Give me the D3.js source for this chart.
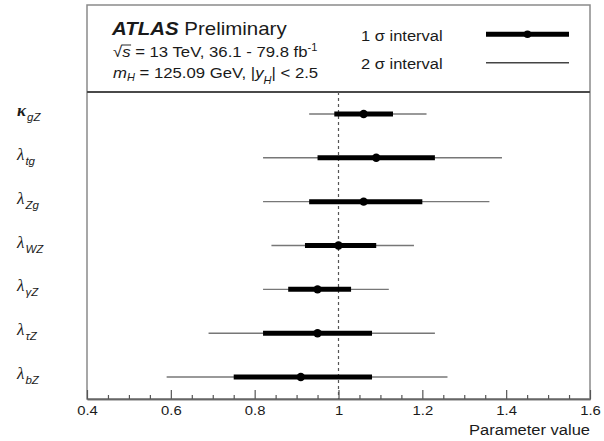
<!DOCTYPE html>
<html>
<head>
<meta charset="utf-8">
<script src="https://cdn.jsdelivr.net/npm/d3@7"></script>
<style>
  body { margin: 0; background: #fff; }
  text { font-family: "Liberation Sans", Arial, sans-serif; fill: #1a1a1a; }
</style>
</head>
<body>
<script>
// parameters, top to bottom
var params = ["kgZ", "ltg", "lZg", "lWZ", "lgZ", "ltZ", "lbZ"];
var symbols = ["κ", "λ", "λ", "λ", "λ", "λ", "λ"];
var subs = ["gZ", "tg", "Zg", "WZ", "γZ", "τZ", "bZ"];
var central = [1.06, 1.09, 1.06, 1.00, 0.95, 0.95, 0.91];
var lo1 = [0.99, 0.95, 0.93, 0.92, 0.88, 0.82, 0.75];
var hi1 = [1.13, 1.23, 1.20, 1.09, 1.03, 1.08, 1.08];
var lo2 = [0.93, 0.82, 0.82, 0.84, 0.82, 0.69, 0.59];
var hi2 = [1.21, 1.39, 1.36, 1.18, 1.12, 1.23, 1.26];
var majorTicks = [0.4, 0.6, 0.8, 1.0, 1.2, 1.4, 1.6];

var W = 604, H = 441;
var frameL = 87, frameR = 590, frameT = 5, sep = 92, frameB = 399;
var stretch = "scale(1.1,1)";

var svg = d3.select("body").append("svg")
    .attr("width", W)
    .attr("height", H);

var x = d3.scaleLinear().domain([0.4, 1.6]).range([frameL, frameR]);
var y = d3.scaleBand().domain(params).range([sep, frameB]);

var rows = params.map(function(p, i) {
  return {key: p, sym: symbols[i], sub: subs[i], c: central[i],
          l1: lo1[i], h1: hi1[i], l2: lo2[i], h2: hi2[i]};
});

// frame + header separator
svg.append("rect")
    .attr("x", frameL).attr("y", frameT)
    .attr("width", frameR - frameL).attr("height", frameB - frameT)
    .attr("fill", "none").attr("stroke", "#8a8a8a").attr("stroke-width", 1.5);
svg.append("line")
    .attr("x1", frameL).attr("x2", frameR).attr("y1", sep).attr("y2", sep)
    .attr("stroke", "#4a4a4a").attr("stroke-width", 2);

// axis ticks (pointing inward)
var minor = d3.range(0.45, 1.6, 0.05).filter(function(v) {
  return Math.abs(v * 5 - Math.round(v * 5)) > 0.01;
});
var gx = svg.append("g").attr("transform", "translate(0," + frameB + ")");
gx.call(d3.axisBottom(x).tickValues(majorTicks).tickSizeInner(-9).tickSizeOuter(0)
    .tickPadding(6).tickFormat(function(d) { return String(+d.toFixed(1)); }));
gx.append("g").call(d3.axisBottom(x).tickValues(minor).tickSizeInner(-4).tickSizeOuter(0)
    .tickFormat(""));
gx.selectAll(".domain").attr("stroke", "#666").attr("stroke-width", 1.5);
gx.selectAll(".tick line").attr("stroke", "#555").attr("stroke-width", 1.2);
gx.selectAll(".tick text")
    .attr("font-family", "Liberation Sans, Arial, sans-serif")
    .attr("font-size", 13.5).attr("fill", "#1a1a1a")
    .attr("transform", stretch);

svg.append("g").attr("transform", "translate(" + frameR + ",435) " + stretch)
  .append("text")
    .attr("text-anchor", "end").attr("font-size", 15)
    .text("Parameter value");

// reference line at 1
svg.append("line")
    .attr("x1", x(1)).attr("x2", x(1)).attr("y1", sep).attr("y2", frameB)
    .attr("stroke", "#555").attr("stroke-width", 1.2)
    .attr("stroke-dasharray", "3,3");

// intervals
var g = svg.selectAll(".row").data(rows).enter().append("g")
    .attr("class", "row")
    .attr("transform", function(d) { return "translate(0," + (y(d.key) + y.bandwidth() / 2) + ")"; });

g.append("line")
    .attr("x1", function(d) { return x(d.l2); })
    .attr("x2", function(d) { return x(d.h2); })
    .attr("stroke", "#777").attr("stroke-width", 1.4);
g.append("line")
    .attr("x1", function(d) { return x(d.l1); })
    .attr("x2", function(d) { return x(d.h1); })
    .attr("stroke", "#000").attr("stroke-width", 5);
g.append("circle")
    .attr("cx", function(d) { return x(d.c); })
    .attr("r", 4.2).attr("fill", "#000");

// row labels
var lab = g.append("text")
    .attr("x", 17).attr("y", 2);
lab.append("tspan")
    .attr("font-family", "Liberation Serif, serif")
    .attr("font-style", "italic")
    .attr("font-weight", function(d) { return d.sym === "κ" ? "bold" : "normal"; })
    .attr("font-size", 17)
    .text(function(d) { return d.sym; });
lab.append("tspan")
    .attr("dy", 5).attr("dx", 1)
    .attr("font-style", "italic").attr("font-size", 11.5)
    .text(function(d) { return d.sub; });

// header text
svg.append("g").attr("transform", "translate(112,35) " + stretch)
  .append("text").attr("font-size", 18.6)
  .call(function(t) {
    t.append("tspan").attr("font-weight", "bold").attr("font-style", "italic").text("ATLAS");
    t.append("tspan").text(" Preliminary");
  });

var l2 = svg.append("g").attr("transform", "translate(113,57) " + stretch);
var t2 = l2.append("text").attr("font-size", 15.2);
t2.append("tspan").text("√");
t2.append("tspan").attr("font-style", "italic").text("s");
t2.append("tspan").text(" = 13 TeV, 36.1 - 79.8 fb");
t2.append("tspan").attr("dy", -6).attr("font-size", 10).text("-1");
var sx0 = t2.node().getStartPositionOfChar(1).x,
    sx1 = t2.node().getEndPositionOfChar(1).x;
l2.append("line").attr("x1", sx0 - 0.5).attr("x2", sx1 + 0.5).attr("y1", -12).attr("y2", -12)
    .attr("stroke", "#1a1a1a").attr("stroke-width", 0.9);

svg.append("g").attr("transform", "translate(113,78) " + stretch)
  .append("text").attr("font-size", 15.2)
  .call(function(t) {
    t.append("tspan").attr("font-style", "italic").text("m");
    t.append("tspan").attr("dy", 3).attr("font-size", 10).attr("font-style", "italic").text("H");
    t.append("tspan").attr("dy", -3).text(" = 125.09 GeV, |");
    t.append("tspan").attr("font-style", "italic").text("y");
    t.append("tspan").attr("dy", 6).attr("font-size", 10).attr("font-style", "italic").text("H");
    t.append("tspan").attr("dy", -6).text("| < 2.5");
  });

// legend
var legend = [{label: "1 σ interval", thick: true, ty: 41, ly: 34.3},
              {label: "2 σ interval", thick: false, ty: 69, ly: 62.7}];
var lg = svg.selectAll(".legend").data(legend).enter().append("g")
    .attr("class", "legend");
lg.append("g")
    .attr("transform", function(d) { return "translate(361," + d.ty + ") " + stretch; })
  .append("text").attr("font-size", 15)
    .text(function(d) { return d.label; });
lg.append("line").attr("x1", 486).attr("x2", 569)
    .attr("y1", function(d) { return d.ly; }).attr("y2", function(d) { return d.ly; })
    .attr("stroke", function(d) { return d.thick ? "#000" : "#444"; })
    .attr("stroke-width", function(d) { return d.thick ? 5 : 1.4; });
lg.filter(function(d) { return d.thick; }).append("circle")
    .attr("cx", 527.5).attr("cy", function(d) { return d.ly; }).attr("r", 3.8).attr("fill", "#000");
</script>
</body>
</html>
